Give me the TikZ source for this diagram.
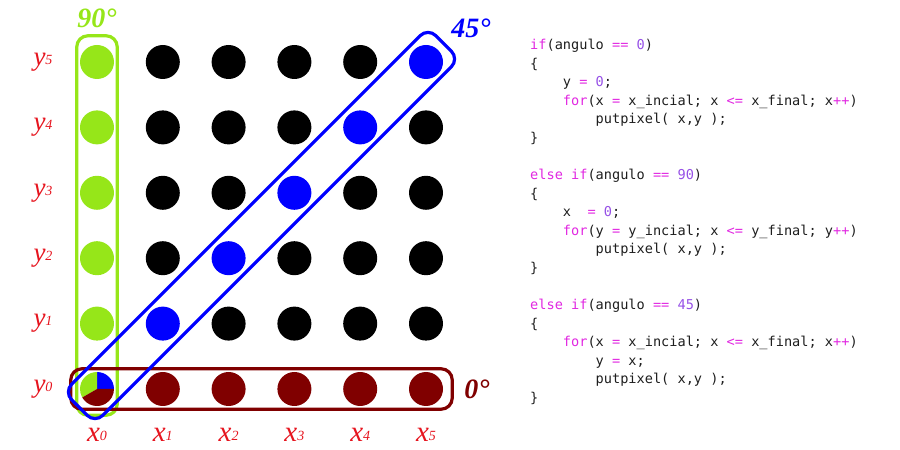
\documentclass[tikz,border=0pt]{standalone}
\usepackage{fontspec}
\setmainfont{Liberation Serif}
\setmonofont{DejaVu Sans Mono}
\usepackage{tikz}
\usetikzlibrary{positioning, fit, calc}

\definecolor{pixgreen}{RGB}{150,230,25}
\definecolor{pixblue}{RGB}{0,0,255}
\definecolor{pixred}{RGB}{128,0,0}
\definecolor{labred}{RGB}{230,20,30}
\definecolor{kwcolor}{RGB}{225,40,225}
\definecolor{numcolor}{RGB}{150,80,230}
\definecolor{codetext}{RGB}{30,30,30}

\newcommand{\kw}[1]{\textcolor{kwcolor}{#1}}
\newcommand{\cnum}[1]{\textcolor{numcolor}{#1}}
\newcommand{\tab}{\phantom{0000}}
\newcommand{\subdig}[1]{\raisebox{1pt}{\fontsize{14}{14}\selectfont #1}}

\begin{document}
\begin{tikzpicture}[
  x=1pt, y=1pt,
  dot/.style={circle, minimum size=34pt, inner sep=0pt},
  box/.style={draw, rounded corners=11pt, line width=3.2pt},
  ylab/.style={font=\fontsize{27}{27}\selectfont\itshape, text=labred},
  xlab/.style={font=\fontsize{29}{29}\selectfont\itshape, text=labred},
  anglab/.style={font=\fontsize{28}{28}\selectfont\bfseries\itshape},
  code/.style={font=\ttfamily\fontsize{13.6}{18.55}\selectfont, text=codetext, align=left, anchor=north west, inner sep=0pt}
]
\useasboundingbox (0,0) rectangle (900,450);

% pixel grid
\foreach \i in {0,...,5}{
  \foreach \j in {0,...,5}{
    \ifnum\i=0
      \ifnum\j=0 \def\dotcol{none}\else \def\dotcol{pixgreen}\fi
    \else
      \ifnum\j=0 \def\dotcol{pixred}\else
        \ifnum\i=\j \def\dotcol{pixblue}\else \def\dotcol{black}\fi
      \fi
    \fi
    \node[dot, fill=\dotcol] (p\i\j) at (97+65.8*\i, 61+65.4*\j) {};
  }
}

% shared pixel (x0,y0)
\fill[pixblue] (p00.center) -- ++(0:17) arc (0:90:17) -- cycle;
\fill[pixgreen] (p00.center) -- ++(90:17) arc (90:210:17) -- cycle;
\fill[pixred] (p00.center) -- ++(210:17) arc (210:360:17) -- cycle;

% axis labels
\foreach \j in {0,...,5}
  \node[ylab] (ly\j) at (43, 61+65.4*\j) {y\subdig{\j}};
\foreach \i in {0,...,5}
  \node[xlab] (lx\i) at (97+65.8*\i, 15) {x\subdig{\i}};

% lines at 90, 0 and 45 degrees
\node[box, draw=pixgreen, fit=(p00)(p05), inner xsep=3pt, inner ysep=9pt] (g90) {};
\node[box, draw=pixred, fit=(p00)(p50), inner xsep=9pt, inner ysep=3pt] (r0) {};
\node[box, draw=pixblue, rotate=45, minimum width=515pt, minimum height=44pt] (d45) at ($(p00)!0.5!(p55)$) {};

\node[anglab, text=pixgreen, above=3pt of g90] (t90) {90°};
\node[anglab, text=pixred, right=7pt of r0] (t0) {0°};
\node[anglab, text=pixblue] (t45) at (471, 422) {45°};

% code
\node[code] (code0) at (530, 411) {%
\kw{if}(angulo \kw{==} \cnum{0})\\
\{\\
\tab y \kw{=} \cnum{0};\\
\tab\kw{for}(x \kw{=} x\_incial; x \kw{<=} x\_final; x\kw{++})\\
\tab\tab putpixel( x,y );\\
\}};
\node[code] (code90) at (530, 281) {%
\kw{else if}(angulo \kw{==} \cnum{90})\\
\{\\
\tab x\ \ \kw{=} \cnum{0};\\
\tab\kw{for}(y \kw{=} y\_incial; x \kw{<=} y\_final; y\kw{++})\\
\tab\tab putpixel( x,y );\\
\}};
\node[code] (code45) at (530, 151) {%
\kw{else if}(angulo \kw{==} \cnum{45})\\
\{\\
\tab\kw{for}(x \kw{=} x\_incial; x \kw{<=} x\_final; x\kw{++})\\
\tab\tab y \kw{=} x;\\
\tab\tab putpixel( x,y );\\
\}};
\end{tikzpicture}
\end{document}
